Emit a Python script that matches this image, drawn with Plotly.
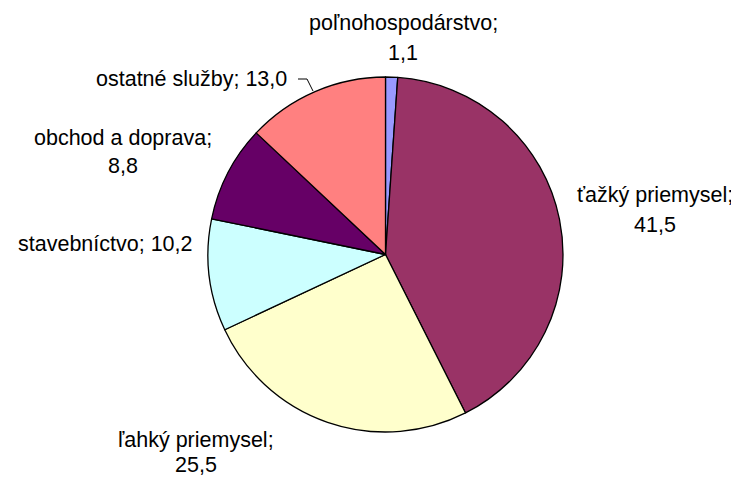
import plotly.graph_objects as go

categories = ["poľnohospodárstvo", "ťažký priemysel", "ľahký priemysel",
              "stavebníctvo", "obchod a doprava", "ostatné služby"]
values = [1.1, 41.5, 25.5, 10.2, 8.8, 13.0]
colors = ["#9999FF", "#993366", "#FFFFCC", "#CCFFFF", "#660066", "#FF8080"]

W, H = 739, 481
OFF = 8  # page body margin
cx, cy, r = 385.5, 254.5, 177.5

def px(x):
    return (x - OFF) / W

def py(y):
    return 1 - (y - OFF) / H

fig = go.Figure(go.Pie(
    labels=categories, values=values, sort=False, direction="clockwise", rotation=0,
    marker=dict(colors=colors, line=dict(color="black", width=1.3)),
    textinfo="none", hoverinfo="label+value", showlegend=False,
    domain=dict(x=[px(cx - r), px(cx + r)], y=[py(cy + r), py(cy - r)]),
))

def fmt(v):
    return f"{v:.1f}".replace(".", ",")

# label placement: x_px (center), line-y positions (one or two lines)
label_pos = [
    (403, [23, 53]),
    (655, [195, 225]),
    (196, [440, 465]),
    (105, [244]),
    (123, [138, 166]),
    (191, [79]),
]
FONT = dict(family="Liberation Sans, Arial", size=21.5, color="black")
for cat, v, (x, ys) in zip(categories, values, label_pos):
    if len(ys) == 2:
        lines = [f"{cat};", fmt(v)]
    else:
        lines = [f"{cat}; {fmt(v)}"]
    for t, y in zip(lines, ys):
        fig.add_annotation(text=t, x=px(x), y=py(y), xref="paper", yref="paper",
                           xanchor="center", yanchor="middle", showarrow=False,
                           font=FONT)

# leader line for "ostatné služby"
fig.add_shape(type="path", xref="paper", yref="paper",
              path=f"M {px(298)},{py(79)} L {px(307)},{py(79)} L {px(313)},{py(91)}",
              line=dict(color="black", width=1))

fig.update_layout(width=W, height=H, margin=dict(l=0, r=0, t=0, b=0),
                  paper_bgcolor="white", plot_bgcolor="white")
fig.write_html("out.html")
